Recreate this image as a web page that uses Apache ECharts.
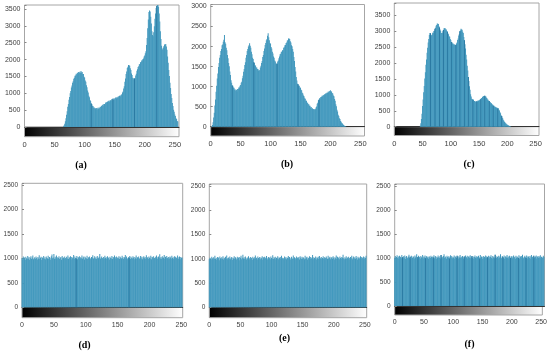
<!DOCTYPE html>
<html><head><meta charset="utf-8">
<script src="https://cdn.jsdelivr.net/npm/echarts@6/dist/echarts.min.js"></script>
<style>html,body{margin:0;padding:0;background:#fff}#c{width:550px;height:351px}</style>
</head><body><div id="c"></div>
<script>
// Histogram counts per grey level (0..255)
const histA = [
0,0,0,0,0,0,0,0,0,0, 0,0,0,0,0,0,0,0,0,0, 0,0,0,0,0,0,0,0,0,0, 0,0,0,0,0,0,0,0,0,0,
0,0,0,0,0,0,0,0,0,0, 0,0,0,0,0,0,0,0,0,0, 0,0,0,0,0,
20,50,100,170,260,360,470,600,680,810,890,1000,1070,1170,1230,1310,1360,1430,1460,1520,
1530,1580,1560,1610,1580,1630,1600,1640,1610,1660,1620,1630,1570,1570,1490,1470,1380,1340,1240,1180,
1080,1020,930,880,800,770,700,680,630,620,580,580,550,560,530,565,530,570,540,580,
555,600,590,630,605,660,635,680,685,670,720,740,710,760,735,780,750,790,795,780,
820,795,840,810,850,825,860,880,850,890,865,910,880,920,940,915,960,975,1020,1050,
1140,1210,1340,1440,1570,1650,1750,1790,1840,1830,1820,1740,1690,1590,1540,1460,1450,1410,1440,1450,
1530,1580,1670,1710,1780,1800,1860,1870,1920,1930,1970,1980,2020,2030,2090,2120,2190,2250,2430,2640,
2930,3190,3410,3460,3430,3270,3070,2840,2730,2690,2810,2990,3210,3370,3530,3590,3640,3620,3570,3370,
3130,2840,2610,2410,2330,2290,2360,2400,2450,2450,2460,2390,2290,2090,1910,1690,1510,1310,1160,980,
860,710,620,510,450,370,330,260,240,180,160
];
const histB = [
0,0,10,40,110,230,350,530,680,870,1020,1200,1330,1490,1590,1720,1790,1890,1940,2030,
2050,2120,2170,2290,2110,2070,1970,1910,1790,1710,1590,1510,1380,1290,1160,1100,1030,1020,980,970,
930,930,890,920,880,940,940,980,980,1020,1040,1100,1120,1210,1270,1370,1440,1540,1610,1720,
1790,1890,1940,2000,2030,2080,2020,1970,1870,1810,1720,1690,1610,1590,1530,1530,1480,1480,1440,1440,
1400,1410,1410,1480,1520,1590,1640,1740,1790,1890,1950,2040,2090,2160,2190,2270,2330,2230,2160,2090,
2070,1990,1950,1870,1830,1750,1720,1650,1630,1580,1570,1570,1630,1650,1710,1750,1810,1820,1870,1870,
1910,1910,1970,1980,2030,2040,2090,2100,2150,2160,2200,2200,2190,2130,2100,2030,2010,1940,1870,1740,
1640,1490,1380,1240,1150,1070,1060,1020,1020,980,970,920,910,850,830,780,760,710,700,650,
650,600,600,560,560,520,520,480,490,450,460,430,440,415,440,435,480,505,570,600,
660,670,710,710,740,740,770,760,790,780,810,800,830,820,850,840,870,860,890,880,
910,880,880,840,830,780,760,690,650,560,510,420,380,300,270,210,190,140,125,95,
80,60,45,30,20,10,5,0,0,0,0,0,0,0,0,0,0,0,0,0,
0,0,0,0,0,0,0,0,0,0,0,0,0,0,0,0
];
const histC = [
0,0,0,0,0,0,0,0,0,0, 0,0,0,0,0,0,0,0,0,0, 0,0,0,0,0,0,0,0,0,0, 0,0,0,0,0,0,0,0,0,0,
0,0,0,0,0,0,
30,110,240,410,650,850,1080,1280,1510,1710,1940,2110,2320,2480,2640,2750,2880,2940,2930,2870,
2870,2890,2950,2950,3000,3010,3070,3100,3170,3190,3240,3230,3220,3150,3110,3050,3010,2940,2940,2950,
3010,3030,3090,3090,3090,3050,3050,3000,2980,2920,2900,2840,2820,2750,2720,2660,2650,2610,2610,2580,
2590,2560,2570,2560,2610,2640,2720,2770,2860,2910,2990,3020,3070,3050,3040,2980,2940,2810,2710,2590,
2450,2260,2110,1910,1760,1560,1430,1270,1160,1020,950,880,870,840,850,810,810,780,790,780,
800,790,820,810,840,830,860,860,900,900,940,930,960,950,970,950,945,910,895,850,
845,810,805,770,765,730,735,700,695,660,665,630,635,610,615,590,595,570,575,530,
505,450,420,360,335,280,255,200,185,145,135,105,90,70,62,45,40,28,20,12,
6,2,
0,0,0,0,0,0,0,0,0,0, 0,0,0,0,0,0,0,0,0,0, 0,0,0,0,0,0,0,0,0,0, 0,0,0,0,0,0,0,0,0,0,
0,0,0,0,0,0,0,0
];
const histD = [
1010,985,1040,995,1020,970,1035,1005,990,1050,
1000,1030,975,1015,1045,990,1020,1060,985,1005,
1025,995,1040,1010,980,1030,1000,1065,990,1015,
1035,970,1020,1005,1050,995,1025,985,1040,1010,
1000,1055,990,1030,1015,975,1045,1080,1005,1020,
1090,995,1035,1000,1060,985,1025,1010,1045,990,
1015,1030,975,1050,1005,1020,995,1040,1010,985,
1035,1000,1060,990,1025,1015,1045,980,1030,1005,
1020,1070,995,1040,1010,1000,1050,985,1030,1015,
1045,990,1025,1005,1060,995,1020,1040,980,1035,
1010,1000,1055,990,1025,1015,1040,1005,985,1030,
1020,1065,995,1010,1045,1000,1025,990,1050,1015,
1005,1035,1090,995,1020,1040,1010,985,1030,1000,
1055,1015,990,1025,1045,1005,1020,980,1035,1010,
1000,1050,990,1030,1015,1060,995,1025,1040,985,
1020,1005,1045,990,1035,1010,1000,1055,1015,990,
1030,1020,1070,995,1040,1005,985,1025,1015,1050,
990,1035,1010,1000,1045,1020,985,1030,1005,1060,
995,1025,1015,1040,990,1010,1050,1000,1035,985,
1020,1045,1005,1030,995,1065,1010,1025,990,1040,
1015,1000,1055,985,1030,1020,1045,995,1010,1035,
1005,1060,990,1025,1040,1015,1085,1000,1030,995,
1045,1010,1020,1070,990,1035,1005,1050,1015,985,
1030,1000,1040,1020,995,1055,1010,1025,990,1045,
1005,1035,1015,1000,1060,990,1025,1040,985,1030,
1010,1020,1000,1040,995,1030
];
const histE = [
990,1020,1005,975,1040,1010,985,1030,1000,1060,
995,1015,980,1035,1005,1025,970,1045,1010,990,
1030,1000,1050,985,1020,1005,1040,995,1065,1010,
980,1025,1000,1045,990,1015,1035,975,1020,1005,
1050,995,1030,1010,985,1040,1000,1025,970,1035,
1015,1060,990,1020,1080,1005,1030,995,1045,1010,
985,1025,1000,1050,1015,990,1035,1005,1020,975,
1040,1010,995,1030,1065,1000,1020,985,1045,1015,
1005,1035,990,1025,1010,1050,980,1030,1000,1040,
1020,995,1055,1010,985,1035,1005,1025,990,1045,
1015,1000,1070,995,1030,1010,1040,985,1020,1005,
1050,990,1025,1015,1035,1000,1060,995,1020,1010,
985,1045,1005,1030,990,1025,1015,1055,1000,1035,
1010,980,1040,1020,995,1065,1005,1030,1015,990,
1045,1000,1025,1010,1035,985,1050,1020,995,1040,
1005,1030,1015,990,1060,1000,1025,1040,985,1020,
1010,1050,995,1035,1005,1020,1075,990,1030,1015,
1000,1045,985,1025,1010,1040,995,1055,1020,1005,
1035,990,1015,1050,1000,1030,985,1020,1045,1010,
995,1060,1005,1025,1040,990,1015,1035,1000,1050,
1020,985,1030,1010,1065,995,1040,1005,1025,990,
1045,1015,1000,1035,1020,1085,1010,990,1030,1005,
1050,1000,1025,995,1040,1015,985,1035,1010,1060,
990,1020,1045,1005,1030,1000,1055,1015,985,1040,
1010,1025,995,1050,1005,1035,1020,990,1045,1000,
1030,1015,1060,995,1020,1040
];
const histF = [
1005,1040,990,1020,1055,1000,1030,985,1045,1010,
1025,995,1060,1015,990,1035,1005,1050,980,1020,
1040,1010,995,1030,1065,1000,1025,985,1045,1015,
1000,1035,1020,990,1050,1010,1030,1075,995,1020,
1045,1005,1025,985,1040,1015,1000,1060,990,1030,
1010,1050,995,1025,1040,1005,1020,985,1035,1015,
1000,1045,1020,990,1030,1010,1055,995,1025,1040,
985,1020,1005,1050,1015,1000,1035,990,1060,1010,
1025,995,1040,1080,1005,1030,1015,985,1045,1020,
1000,1035,990,1025,1055,1010,1040,995,1020,1005,
1050,985,1030,1015,1000,1045,1020,990,1035,1010,
1060,1005,1025,995,1040,1015,985,1030,1000,1050,
1020,1010,1045,990,1025,1035,1005,1055,995,1015,
1040,1000,1030,985,1020,1050,1010,995,1035,1025,
1005,1045,1015,990,1060,1000,1030,1020,985,1040,
1010,1025,995,1050,1005,1035,1015,1000,1045,990,
1030,1020,1055,1005,985,1040,1010,1025,995,1065,
1015,1000,1035,1020,990,1045,1005,1030,1075,1010,
995,1040,1020,1000,1050,985,1025,1035,1010,1060,
1005,1030,990,1045,1015,1000,1040,1020,995,1035,
1050,1010,1025,985,1045,1005,1030,1015,1000,1055,
990,1035,1020,1040,1005,1065,1010,995,1025,1045,
1015,1000,1050,990,1030,1020,1040,1005,985,1035,
1060,1010,1025,995,1045,1015,1000,1030,1050,990,
1020,1040,1005,1035,1010,1055,995,1025,1015,1000,
1045,1020,990,1035,1010,1005
];
// grey levels where the reference shows a darker stem line
const stemsA = [111, 147, 183, 220];
const stemsB = [36, 72, 111, 146, 181];
const stemsC = [64, 72, 80, 87, 94, 101, 109, 116, 124, 131, 139, 146, 153, 160, 168, 175, 183, 190];
const stemsD = [85, 168];
const stemsE = [];
const stemsF = [13, 26, 39, 52, 65, 78, 92, 105, 117, 130, 143, 156, 169, 182, 195, 208, 221, 234];

const panelLabels = ['(a)', '(b)', '(c)', '(d)', '(e)', '(f)'];
const xTickStep = 50;
const yTickStep = 500;

// layout (pixels) and axis extents per panel
const panels = [
  {vals: histA, stems: stemsA, yMax: 3620, xMax: 257, l: 24.5, t: 5, r: 179, z: 127, b: 136.7, fs: 7, lx: 81, ly: 165},
  {vals: histB, stems: stemsB, yMax: 3050, xMax: 257, l: 210.7, t: 4.5, r: 364.5, z: 126.7, b: 136, fs: 7, lx: 287, ly: 164.5},
  {vals: histC, stems: stemsC, yMax: 3880, xMax: 256, l: 394.3, t: 3, r: 539, z: 126.7, b: 135.5, fs: 7, lx: 469, ly: 164.5},
  {vals: histD, stems: stemsD, yMax: 2540, xMax: 252, l: 22, t: 183.3, r: 182.7, z: 307.3, b: 317.7, fs: 6.5, lx: 84.5, ly: 345.5},
  {vals: histE, stems: stemsE, yMax: 2540, xMax: 253, l: 209.3, t: 184, r: 366.7, z: 307.3, b: 317.7, fs: 6.5, lx: 284.5, ly: 338.5},
  {vals: histF, stems: stemsF, yMax: 2540, xMax: 252, l: 394.7, t: 184, r: 544.5, z: 306, b: 315, fs: 6.5, lx: 469.5, ly: 344.5}
];

const BAR = '#4298bd';
const STEM = '#2b7aa3';
const BOX = '#a6a6a6';
const TXT = '#404040';
const FONT = '"Liberation Sans", Arial, sans-serif';

const grid = [], xAxis = [], yAxis = [], series = [], graphic = [];
panels.forEach((p, i) => {
  const w = p.r - p.l;
  const gi = grid.length;
  grid.push({left: p.l, top: p.t, width: w, height: p.z - p.t, show: true, borderColor: BOX, borderWidth: 1, backgroundColor: '#fff'});
  grid.push({left: p.l, top: p.z, width: w, height: p.b - p.z, show: true, borderColor: BOX, borderWidth: 1,
    backgroundColor: new echarts.graphic.LinearGradient(0, 0, 1, 0, [{offset: 0, color: '#000'}, {offset: 1, color: '#fff'}])});
  xAxis.push({gridIndex: gi, type: 'value', min: 0, max: p.xMax, interval: xTickStep,
    axisLine: {show: true, onZero: false, lineStyle: {color: '#333', width: 1}},
    axisTick: {show: false}, axisLabel: {show: false}, splitLine: {show: false}});
  xAxis.push({gridIndex: gi + 1, type: 'value', min: 0, max: p.xMax, interval: xTickStep,
    axisLine: {show: false}, axisTick: {show: false}, splitLine: {show: false},
    axisLabel: {show: true, margin: 4, fontSize: p.fs + 0.5, color: TXT, fontFamily: FONT,
      formatter: v => (v % xTickStep === 0 ? String(v) : '')}});
  yAxis.push({gridIndex: gi, type: 'value', min: 0, max: p.yMax, interval: yTickStep,
    axisLine: {show: false}, splitLine: {show: false},
    axisTick: {show: true, inside: true, length: 2, lineStyle: {color: '#888'}},
    axisLabel: {show: true, margin: 4, fontSize: p.fs, color: TXT, fontFamily: FONT,
      formatter: v => (v % yTickStep === 0 ? String(v) : '')}});
  yAxis.push({gridIndex: gi + 1, type: 'value', min: 0, max: 1, show: false});
  const inRange = p.vals.map((v, k) => [k, v]).filter(d => d[0] <= p.xMax - 0.5);
  series.push({type: 'bar', xAxisIndex: gi, yAxisIndex: gi,
    data: inRange, barWidth: 1.0, barGap: '-100%', itemStyle: {color: BAR},
    clip: true, animation: false, silent: true, z: 2});
  series.push({type: 'bar', xAxisIndex: gi, yAxisIndex: gi,
    data: p.stems.map(k => [k, p.vals[k]]), barWidth: 0.7, barGap: '-100%', itemStyle: {color: STEM},
    clip: true, animation: false, silent: true, z: 3});
  graphic.push({type: 'text', x: p.lx, y: p.ly,
    style: {text: panelLabels[i], fill: '#000', font: 'bold 10px "Liberation Serif", "Times New Roman", serif',
      textAlign: 'center', textVerticalAlign: 'middle', align: 'center', verticalAlign: 'middle'}});
});

const chart = echarts.init(document.getElementById('c'), null, {renderer: 'canvas'});
chart.setOption({animation: false, backgroundColor: '#fff', grid, xAxis, yAxis, series, graphic});
</script>
</body></html>
